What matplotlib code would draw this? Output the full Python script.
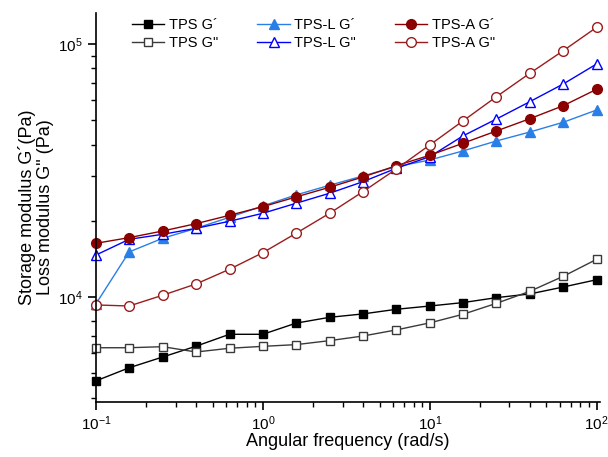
"""Frequency sweep: storage / loss modulus of TPS, TPS-L and TPS-A."""

import matplotlib
matplotlib.use('Agg')
import matplotlib.pyplot as plt
from matplotlib.ticker import LogLocator, NullFormatter

plt.rcParams['font.family'] = ['Liberation Sans', 'DejaVu Sans']
plt.rcParams['mathtext.default'] = 'regular'
plt.rcParams['axes.unicode_minus'] = False

# angular frequency (rad/s), 5 points per decade
freq = [0.1, 0.158, 0.251, 0.398, 0.631, 1.0, 1.58, 2.51, 3.98, 6.31,
        10.0, 15.8, 25.1, 39.8, 63.1, 100.0]

tps_g1 = [4660, 5250, 5790, 6390, 7120, 7120, 7880, 8310, 8570, 8940,
          9210, 9500, 9940, 10280, 10950, 11700]
tps_g2 = [6300, 6300, 6360, 6060, 6270, 6380, 6480, 6720, 7010, 7410,
          7900, 8540, 9440, 10530, 12070, 14090]
tpsl_g1 = [9400, 15070, 17060, 18680, 20650, 22900, 25310, 27640, 30090, 32730,
           34790, 37770, 41360, 44880, 49040, 54830]
tpsl_g2 = [14650, 16900, 17690, 18680, 19920, 21420, 23460, 25700, 28560, 32270,
           35850, 43300, 50520, 59160, 69490, 83370]
tpsa_g1 = [16300, 17160, 18230, 19490, 21030, 22750, 24850, 27140, 29810, 33040,
           36320, 40510, 45310, 50660, 57030, 66220]
tpsa_g2 = [9300, 9210, 10160, 11260, 12870, 14970, 17850, 21420, 26080, 32060,
           39890, 49620, 61900, 76620, 94080, 116400]

series = [
    ('TPS G\u00b4', tps_g1, dict(color='black', marker='s', mfc='black', mec='black', ms=6)),
    ('TPS G"', tps_g2, dict(color='#3a3a3a', marker='s', mfc='white', mec='#3a3a3a', ms=6)),
    ('TPS-L G\u00b4', tpsl_g1, dict(color='#2a7fe6', marker='^', mfc='#2a7fe6', mec='#2a7fe6', ms=7)),
    ('TPS-L G"', tpsl_g2, dict(color='#0000ff', marker='^', mfc='white', mec='#0000ff', ms=7)),
    ('TPS-A G\u00b4', tpsa_g1, dict(color='#8b0000', marker='o', mfc='#8b0000', mec='#8b0000', ms=7)),
    ('TPS-A G"', tpsa_g2, dict(color='#9b1c1c', marker='o', mfc='white', mec='#9b1c1c', ms=7)),
]

fig = plt.figure(figsize=(6.08, 4.57), dpi=100)
ax = fig.add_axes([96 / 608, 1 - 401.7 / 457, 504 / 608, 388.4 / 457])

for label, vals, style in series:
    ax.plot(freq, vals, label=label, lw=1.0, mew=1.0, clip_on=False, **style)

ax.set_xscale('log')
ax.set_yscale('log')
ax.set_xlim(0.1, 104.7)
ax.set_ylim(3855, 132200)

ax.yaxis.set_major_locator(LogLocator(base=10, numticks=10))
ax.yaxis.set_minor_locator(LogLocator(base=10, subs=range(2, 10), numticks=10))
ax.yaxis.set_minor_formatter(NullFormatter())
ax.xaxis.set_minor_formatter(NullFormatter())

for side in ['top', 'right']:
    ax.spines[side].set_visible(False)
for side in ['left', 'bottom']:
    ax.spines[side].set_linewidth(1.2)

ax.tick_params(which='major', length=6, width=1.2, labelsize=11, direction='out')
ax.tick_params(which='minor', length=3.5, width=1.0, direction='out')

ax.set_xlabel('Angular frequency (rad/s)', fontsize=13, labelpad=0)
ax.set_ylabel('Storage modulus G\u00b4(Pa)\nLoss modulus G" (Pa)', fontsize=13,
              linespacing=1.1, labelpad=3)

ax.legend(ncol=3, frameon=False, fontsize=10.5, loc='upper left',
          bbox_to_anchor=(0.052, 1.015), handlelength=2.2, handletextpad=0.3,
          columnspacing=2.7, labelspacing=0.3, borderaxespad=0.3)

fig.savefig('out.png', dpi=100)
